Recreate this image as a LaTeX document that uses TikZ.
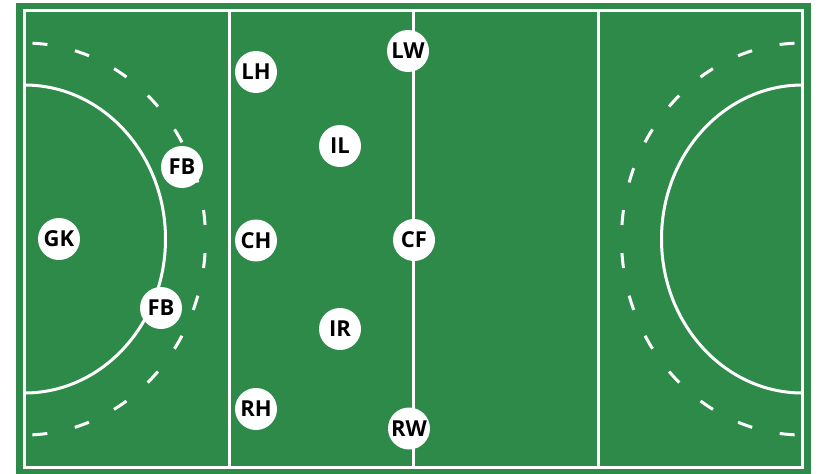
\documentclass[tikz,border=0pt]{standalone}
\usepackage{fontspec}
\setmainfont{Open Sans}
\definecolor{pitch}{RGB}{45,138,73}
\definecolor{ink}{RGB}{0,0,0}
\tikzset{
  line/.style={white, line width=3pt},
  dline/.style={white, line width=3pt, dash pattern=on 15pt off 28.2pt, dash phase=35.2pt},
  player/.style={circle, fill=white, minimum size=42pt, inner sep=0pt, text=ink,
    font=\fontsize{22}{24}\selectfont\bfseries}
}
\begin{document}
\begin{tikzpicture}[x=1pt, y=-1pt]
\useasboundingbox (0,0) rectangle (823,474);
\fill[pitch] (16,3) rectangle (811,474);
% outer lines
\draw[line] (24.5,10.5) rectangle (802.5,467);
\draw[line] (229.5,10.5) -- (229.5,467);
\draw[line] (413.5,10.5) -- (413.5,467);
\draw[line] (598,10.5) -- (598,467);
% left D
\draw[line] (24.5,85) arc[start angle=-90, end angle=90, x radius=141, y radius=154];
\draw[dline] (24.5,43) arc[start angle=-90, end angle=90, x radius=181, y radius=196];
% right D
\draw[line] (802.5,85) arc[start angle=-90, end angle=-270, x radius=141, y radius=154];
\draw[dline] (802.5,43) arc[start angle=-90, end angle=-270, x radius=181, y radius=196];
% players
\node[player] (gk) at (59,239) {GK};
\node[player] (fb1) at (182,167) {FB};
\node[player] (fb2) at (161,308) {FB};
\node[player] (lh) at (256,72) {LH};
\node[player] (ch) at (256,240.5) {CH};
\node[player] (rh) at (256,409) {RH};
\node[player] (il) at (340,146) {IL};
\node[player] (ir) at (340,329) {IR};
\node[player] (lw) at (408,51) {LW};
\node[player] (cf) at (414,240) {CF};
\node[player] (rw) at (409,428.5) {RW};
\end{tikzpicture}
\end{document}
